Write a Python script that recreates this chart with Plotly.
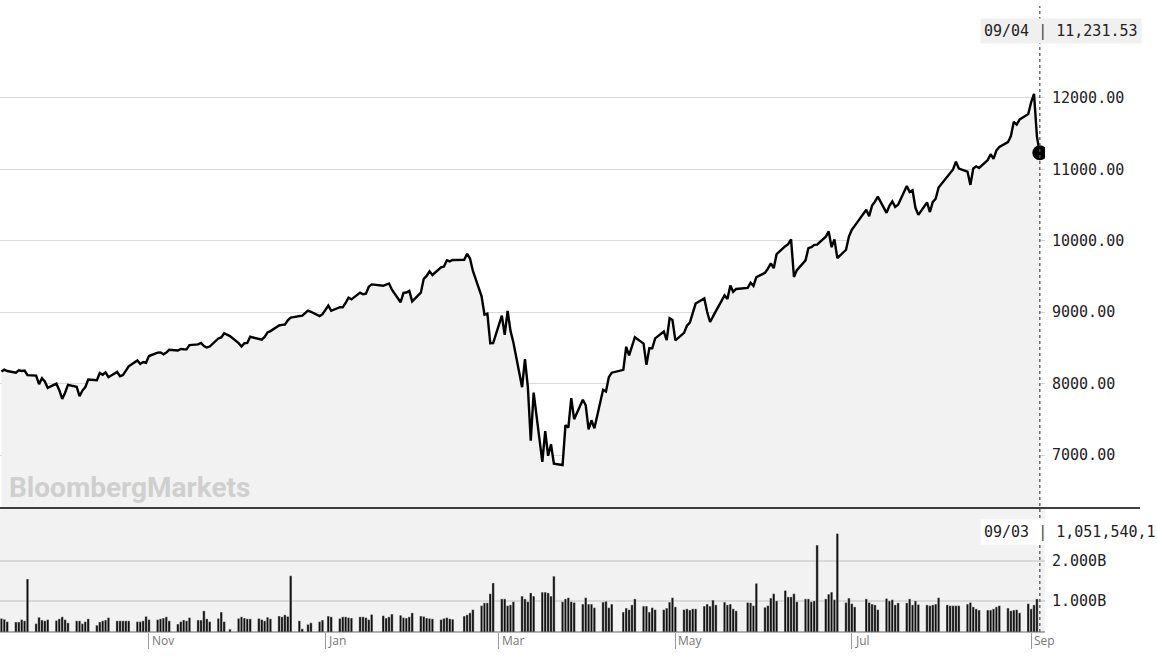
import plotly.graph_objects as go

# ── 收盤價（日期, 指數）────────────────────────────────
CLOSE = [
    ('2019-09-11', 8169), ('2019-09-12', 8195), ('2019-09-13', 8177),
    ('2019-09-16', 8153), ('2019-09-17', 8186), ('2019-09-18', 8177), ('2019-09-19', 8182), ('2019-09-20', 8118),
    ('2019-09-23', 8112), ('2019-09-24', 7993), ('2019-09-25', 8077), ('2019-09-26', 8030), ('2019-09-27', 7940),
    ('2019-09-30', 7999), ('2019-10-01', 7908), ('2019-10-02', 7785), ('2019-10-03', 7872), ('2019-10-04', 7982),
    ('2019-10-07', 7956), ('2019-10-08', 7824), ('2019-10-09', 7903), ('2019-10-10', 7951), ('2019-10-11', 8057),
    ('2019-10-14', 8048), ('2019-10-15', 8149), ('2019-10-16', 8124), ('2019-10-17', 8157), ('2019-10-18', 8090),
    ('2019-10-21', 8163), ('2019-10-22', 8104), ('2019-10-23', 8120), ('2019-10-24', 8186), ('2019-10-25', 8243),
    ('2019-10-28', 8325), ('2019-10-29', 8276), ('2019-10-30', 8303), ('2019-10-31', 8292), ('2019-11-01', 8386),
    ('2019-11-04', 8434), ('2019-11-05', 8435), ('2019-11-06', 8411), ('2019-11-07', 8434), ('2019-11-08', 8475),
    ('2019-11-11', 8464), ('2019-11-12', 8486), ('2019-11-13', 8482), ('2019-11-14', 8480), ('2019-11-15', 8540),
    ('2019-11-18', 8549), ('2019-11-19', 8570), ('2019-11-20', 8526), ('2019-11-21', 8506), ('2019-11-22', 8519),
    ('2019-11-25', 8632), ('2019-11-26', 8647), ('2019-11-27', 8705), ('2019-11-29', 8665),
    ('2019-12-02', 8567), ('2019-12-03', 8520), ('2019-12-04', 8566), ('2019-12-05', 8570), ('2019-12-06', 8656),
    ('2019-12-09', 8621), ('2019-12-10', 8616), ('2019-12-11', 8654), ('2019-12-12', 8717), ('2019-12-13', 8735),
    ('2019-12-16', 8814), ('2019-12-17', 8823), ('2019-12-18', 8827), ('2019-12-19', 8887), ('2019-12-20', 8924),
    ('2019-12-23', 8945), ('2019-12-24', 8952), ('2019-12-26', 9022), ('2019-12-27', 9006),
    ('2019-12-30', 8945), ('2019-12-31', 8973), ('2020-01-02', 9093), ('2020-01-03', 9020),
    ('2020-01-06', 9071), ('2020-01-07', 9068), ('2020-01-08', 9129), ('2020-01-09', 9203), ('2020-01-10', 9179),
    ('2020-01-13', 9274), ('2020-01-14', 9251), ('2020-01-15', 9259), ('2020-01-16', 9357), ('2020-01-17', 9389),
    ('2020-01-21', 9370), ('2020-01-22', 9383), ('2020-01-23', 9402), ('2020-01-24', 9315),
    ('2020-01-27', 9139), ('2020-01-28', 9270), ('2020-01-29', 9276), ('2020-01-30', 9298), ('2020-01-31', 9151),
    ('2020-02-03', 9273), ('2020-02-04', 9467), ('2020-02-05', 9508), ('2020-02-06', 9572), ('2020-02-07', 9521),
    ('2020-02-10', 9628), ('2020-02-11', 9639), ('2020-02-12', 9726), ('2020-02-13', 9711), ('2020-02-14', 9731),
    ('2020-02-18', 9733), ('2020-02-19', 9817), ('2020-02-20', 9751), ('2020-02-21', 9577),
    ('2020-02-24', 9221), ('2020-02-25', 8966), ('2020-02-26', 8980), ('2020-02-27', 8566), ('2020-02-28', 8567),
    ('2020-03-02', 8952), ('2020-03-03', 8684), ('2020-03-04', 9019), ('2020-03-05', 8738), ('2020-03-06', 8576),
    ('2020-03-09', 7950), ('2020-03-10', 8344), ('2020-03-11', 7952), ('2020-03-12', 7201), ('2020-03-13', 7875),
    ('2020-03-16', 6905), ('2020-03-17', 7335), ('2020-03-18', 6990), ('2020-03-19', 7151), ('2020-03-20', 6880),
    ('2020-03-23', 6861), ('2020-03-24', 7418), ('2020-03-25', 7385), ('2020-03-26', 7798), ('2020-03-27', 7502),
    ('2020-03-30', 7774), ('2020-03-31', 7700), ('2020-04-01', 7360), ('2020-04-02', 7487), ('2020-04-03', 7374),
    ('2020-04-06', 7913), ('2020-04-07', 7888), ('2020-04-08', 8091), ('2020-04-09', 8153),
    ('2020-04-13', 8193), ('2020-04-14', 8516), ('2020-04-15', 8394), ('2020-04-16', 8533), ('2020-04-17', 8650),
    ('2020-04-20', 8561), ('2020-04-21', 8263), ('2020-04-22', 8495), ('2020-04-23', 8495), ('2020-04-24', 8634),
    ('2020-04-27', 8730), ('2020-04-28', 8608), ('2020-04-29', 8915), ('2020-04-30', 8890), ('2020-05-01', 8605),
    ('2020-05-04', 8711), ('2020-05-05', 8810), ('2020-05-06', 8855), ('2020-05-07', 8980), ('2020-05-08', 9121),
    ('2020-05-11', 9192), ('2020-05-12', 9002), ('2020-05-13', 8863), ('2020-05-14', 8943), ('2020-05-15', 9015),
    ('2020-05-18', 9235), ('2020-05-19', 9185), ('2020-05-20', 9375), ('2020-05-21', 9285), ('2020-05-22', 9325),
    ('2020-05-26', 9340), ('2020-05-27', 9413), ('2020-05-28', 9369), ('2020-05-29', 9490),
    ('2020-06-01', 9552), ('2020-06-02', 9609), ('2020-06-03', 9683), ('2020-06-04', 9616), ('2020-06-05', 9814),
    ('2020-06-08', 9924), ('2020-06-09', 9953), ('2020-06-10', 10020), ('2020-06-11', 9493), ('2020-06-12', 9589),
    ('2020-06-15', 9726), ('2020-06-16', 9896), ('2020-06-17', 9911), ('2020-06-18', 9943), ('2020-06-19', 9946),
    ('2020-06-22', 10056), ('2020-06-23', 10131), ('2020-06-24', 9910), ('2020-06-25', 10017), ('2020-06-26', 9757),
    ('2020-06-29', 9874), ('2020-06-30', 10059), ('2020-07-01', 10155), ('2020-07-02', 10208),
    ('2020-07-06', 10434), ('2020-07-07', 10344), ('2020-07-08', 10492), ('2020-07-09', 10548), ('2020-07-10', 10617),
    ('2020-07-13', 10391), ('2020-07-14', 10488), ('2020-07-15', 10551), ('2020-07-16', 10474), ('2020-07-17', 10503),
    ('2020-07-20', 10767), ('2020-07-21', 10681), ('2020-07-22', 10706), ('2020-07-23', 10461), ('2020-07-24', 10363),
    ('2020-07-27', 10536), ('2020-07-28', 10402), ('2020-07-29', 10543), ('2020-07-30', 10588), ('2020-07-31', 10745),
    ('2020-08-03', 10903), ('2020-08-04', 10941), ('2020-08-05', 10998), ('2020-08-06', 11108), ('2020-08-07', 11011),
    ('2020-08-10', 10968), ('2020-08-11', 10782), ('2020-08-12', 11012), ('2020-08-13', 11042), ('2020-08-14', 11019),
    ('2020-08-17', 11129), ('2020-08-18', 11211), ('2020-08-19', 11146), ('2020-08-20', 11265), ('2020-08-21', 11312),
    ('2020-08-24', 11380), ('2020-08-25', 11466), ('2020-08-26', 11665), ('2020-08-27', 11625), ('2020-08-28', 11696),
    ('2020-08-31', 11775), ('2020-09-01', 11939), ('2020-09-02', 12056), ('2020-09-03', 11458), ('2020-09-04', 11231.53),
]

# ── 成交量（十億股），每行一週，與收盤日期對齊（至 09/03）──
VOLUME = [
    0.56, 0.54, 0.48,
    0.47, 0.47, 0.53, 0.50, 1.55,
    0.43, 0.59, 0.52, 0.50, 0.53,
    0.51, 0.55, 0.60, 0.53, 0.45,
    0.50, 0.50, 0.43, 0.48, 0.55,
    0.39, 0.47, 0.50, 0.52, 0.58,
    0.50, 0.50, 0.50, 0.50, 0.50,
    0.48, 0.48, 0.50, 0.61, 0.53,
    0.53, 0.55, 0.57, 0.60, 0.50,
    0.42, 0.48, 0.52, 0.50, 0.58,
    0.52, 0.52, 0.75, 0.55, 0.48,
    0.56, 0.72, 0.48, 0.29,
    0.56, 0.60, 0.57, 0.55, 0.55,
    0.56, 0.53, 0.50, 0.59, 0.55,
    0.62, 0.60, 0.65, 0.61, 1.63,
    0.50, 0.30, 0.41, 0.45,
    0.48, 0.52, 0.62, 0.60,
    0.56, 0.60, 0.60, 0.58, 0.57,
    0.60, 0.60, 0.58, 0.53, 0.66,
    0.63, 0.57, 0.60, 0.67,
    0.64, 0.58, 0.57, 0.60, 0.70,
    0.62, 0.61, 0.57, 0.56, 0.55,
    0.53, 0.56, 0.58, 0.55, 0.54,
    0.62, 0.65, 0.70, 0.78,
    0.88, 0.95, 0.95, 1.18, 1.45,
    1.05, 1.05, 0.88, 0.90, 0.98,
    1.12, 1.05, 0.98, 1.20, 1.12,
    1.22, 1.22, 1.20, 1.12, 1.62,
    0.98, 1.05, 1.08, 0.98, 0.96,
    0.92, 1.08, 0.92, 0.92, 0.83,
    0.97, 0.99, 0.83, 0.92,
    0.72, 0.82, 0.78, 0.90, 1.05,
    0.87, 0.87, 0.72, 0.83, 0.78,
    0.78, 0.82, 0.97, 1.08, 0.85,
    0.78, 0.80, 0.77, 0.80, 0.80,
    0.87, 0.92, 0.87, 1.02, 0.90,
    0.97, 0.90, 0.92, 0.80, 0.75,
    0.96, 0.95, 0.88, 1.44,
    0.84, 0.88, 1.07, 1.18, 1.00,
    1.26, 1.10, 1.10, 1.18, 0.98,
    1.05, 1.05, 0.98, 1.00, 2.40,
    1.05, 1.17, 1.22, 1.03, 2.69,
    0.96, 1.07, 0.93, 0.85,
    1.05, 0.96, 0.92, 0.90, 0.78,
    1.06, 1.00, 1.03, 0.90, 0.95,
    0.95, 1.05, 0.90, 1.00, 0.91,
    0.90, 0.88, 0.90, 0.92, 1.08,
    0.90, 0.88, 0.88, 0.88, 0.88,
    0.92, 0.96, 0.85, 0.80, 0.77,
    0.77, 0.77, 0.80, 0.85, 0.88,
    0.82, 0.75, 0.77, 0.78, 0.70,
    0.93, 0.80, 0.90, 1.05,
]

MONTH_TICKS = ['2019-11-01', '2020-01-01', '2020-03-01', '2020-05-01', '2020-07-01', '2020-09-01']
MONTH_LABELS = ['Nov', 'Jan', 'Mar', 'May', 'Jul', 'Sep']
PRICE_TICKS = [7000, 8000, 9000, 10000, 11000, 12000]
VOL_TICKS = [1.0, 2.0]
VOL_LABELS = ['1.000B', '2.000B']

dates = [d for d, _ in CLOSE]
prices = [v for _, v in CLOSE]
n = min(len(VOLUME), len(dates))
vol_dates = dates[:n]

MONO = 'DejaVu Sans Mono'
W, H, B = 1157, 656, 24
PH = H - B
X_END = 1045 / W
SPLIT = (PH - 508) / PH
SEP = '<span style="color:#444444">|</span>'


def py(y_px):
    """像素 y（自頂）→ paper 座標"""
    return (PH - y_px) / PH


fig = go.Figure()

fig.add_trace(go.Scatter(
    x=dates, y=prices, mode='lines',
    line=dict(color='#000000', width=2.4),
    fill='tozeroy', fillcolor='#f2f2f2',
    yaxis='y', xaxis='x', hoverinfo='skip',
))
fig.add_trace(go.Bar(
    x=vol_dates, y=VOLUME[:n], base=0,
    marker=dict(color='#111111', line=dict(color='#f2f2f2', width=0.4)),
    yaxis='y2', xaxis='x',
))

x_range = ['2019-09-10 12:00', '2020-09-05 19:00']

fig.update_layout(
    width=W, height=H,
    margin=dict(l=0, r=0, t=0, b=B, autoexpand=False),
    paper_bgcolor='#ffffff', plot_bgcolor='rgba(0,0,0,0)',
    showlegend=False, bargap=0.15,
    font=dict(family=MONO, color='#222222', size=15),
    xaxis=dict(
        domain=[0, X_END], range=x_range, type='date',
        tickvals=MONTH_TICKS, ticktext=['' for _ in MONTH_LABELS],
        ticks='outside', ticklen=16, tickcolor='#999999', tickwidth=1,
        showgrid=False, zeroline=False, showline=False,
        anchor='y2', automargin=False,
    ),
    yaxis=dict(
        domain=[SPLIT, 1], range=[6259, 13370],
        side='right', anchor='x', automargin=False,
        tickvals=PRICE_TICKS, tickformat='.2f',
        showgrid=True, gridcolor='#d9d9d9', gridwidth=1,
        zeroline=False, ticks='', ticklabelstandoff=6,
    ),
    yaxis2=dict(
        domain=[0, SPLIT], range=[0.22, 3.33],
        side='right', anchor='x', automargin=False,
        tickvals=VOL_TICKS, ticktext=VOL_LABELS,
        showgrid=True, gridcolor='#d9d9d9', gridwidth=2,
        zeroline=False, ticks='', ticklabelstandoff=6,
    ),
)

shapes = [
    # 成交量面板灰底
    dict(type='rect', xref='paper', yref='paper', x0=0, x1=X_END, y0=0, y1=SPLIT,
         fillcolor='#f2f2f2', line=dict(width=0), layer='below'),
    # 分隔線
    dict(type='line', xref='paper', yref='paper', x0=0, x1=1140 / W, y0=SPLIT, y1=SPLIT,
         line=dict(color='#000000', width=1.3)),
    # 底線
    dict(type='line', xref='paper', yref='paper', x0=0, x1=X_END, y0=0, y1=0,
         line=dict(color='#666666', width=1)),
    # 最新日期虛線
    dict(type='line', xref='x', yref='paper', x0=dates[-1], x1=dates[-1], y0=0, y1=py(6),
         line=dict(color='#555555', width=1.3, dash='dot')),
]
fig.update_layout(shapes=shapes)

# 最新點（畫在虛線之上）
fig.add_trace(go.Scatter(
    x=[dates[-1]], y=[prices[-1]], mode='markers',
    marker=dict(color='#000000', size=15, line=dict(width=0)),
    yaxis='y', xaxis='x', hoverinfo='skip',
))

for tv, tl in zip(MONTH_TICKS, MONTH_LABELS):
    fig.add_annotation(
        x=tv, y=py(640), xref='x', yref='paper', text=tl, showarrow=False,
        xanchor='left', yanchor='middle', xshift=1,
        font=dict(family='Open Sans', size=12, color='#777777'),
    )

fig.add_annotation(
    x=0.006, y=py(487), xref='paper', yref='paper',
    text='<b>BloombergMarkets</b>', showarrow=False, xanchor='left', yanchor='middle',
    font=dict(family='Roboto', size=28, color='#cfcfcf'),
)
fig.add_annotation(
    x=980 / W, y=py(31), xref='paper', yref='paper',
    text=f'09/04 {SEP} 11,231.53', showarrow=False, xanchor='left', yanchor='middle',
    bgcolor='#f0f0f0', borderpad=3, font=dict(family=MONO, size=15, color='#222222'),
)
fig.add_annotation(
    x=980 / W, y=py(532), xref='paper', yref='paper',
    text=f'09/03 {SEP} 1,051,540,1', showarrow=False, xanchor='left', yanchor='middle',
    bgcolor='#ffffff', borderpad=3, font=dict(family=MONO, size=15, color='#222222'),
)

# 去掉頁面預設 8px 邊距，讓圖貼齊視窗；隱藏工具列
fig.write_html('out.html', config={'displayModeBar': False},
               post_script="document.body.style.margin='0';")
